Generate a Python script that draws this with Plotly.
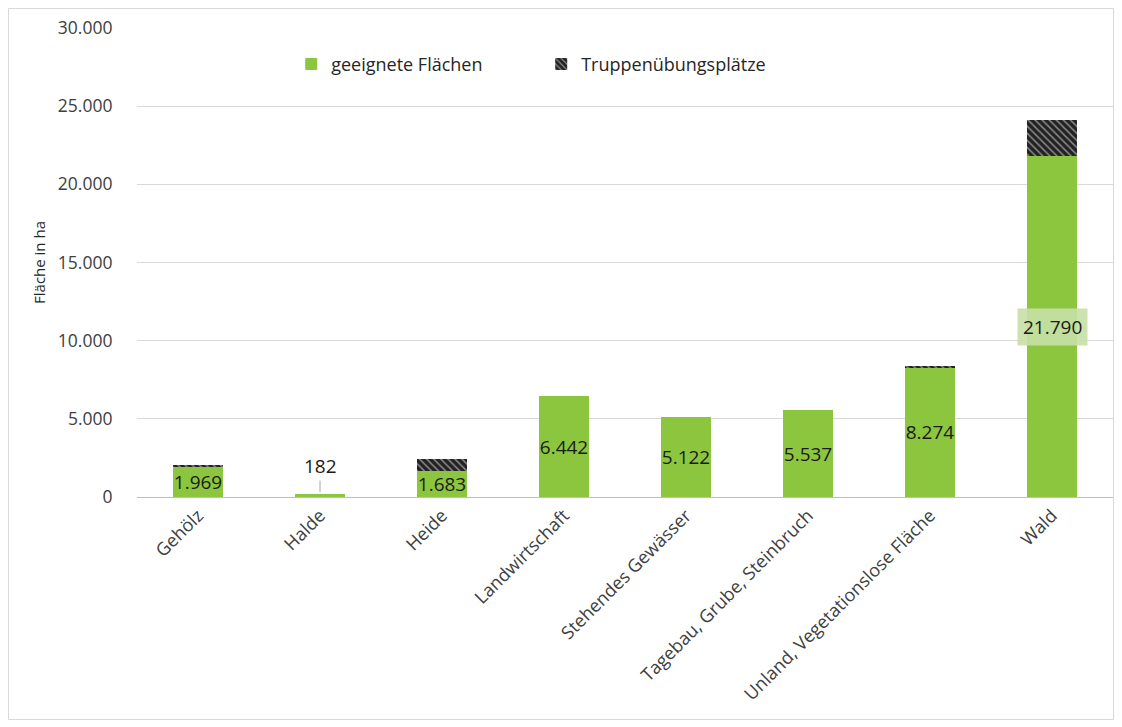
import plotly.graph_objects as go

categories = ['Gehölz', 'Halde', 'Heide', 'Landwirtschaft', 'Stehendes Gewässer',
              'Tagebau, Grube, Steinbruch', 'Unland, Vegetationslose Fläche', 'Wald']
geeignet = [1969, 182, 1683, 6442, 5122, 5537, 8274, 21790]
truppen = [80, 0, 720, 0, 0, 0, 110, 2320]
y_ticks = [0, 5000, 10000, 15000, 20000, 25000, 30000]
y_tick_labels = ['0', '5.000', '10.000', '15.000', '20.000', '25.000', '30.000']


def fmt(v):
    return f'{v:,}'.replace(',', '.')


# labels inside the bars; Halde and Wald get annotations instead
bar_text = [fmt(v) if c not in ('Halde', 'Wald') else '' for c, v in zip(categories, geeignet)]

green = '#8cc63f'
font_family = 'Open Sans, Noto Sans, sans-serif'

W, H = 1106, 712
ML, MR, MT, MB = 129, 1, 20, 223
plot_w = W - ML - MR
plot_h = H - MT - MB

fig = go.Figure()

fig.add_trace(go.Bar(
    x=categories, y=geeignet, name='geeignete Flächen',
    marker=dict(color=green, line=dict(width=0)),
    text=bar_text, textposition='inside', insidetextanchor='middle',
    textangle=0, constraintext='none',
    textfont=dict(size=19, color='#1a1a1a'),
    width=0.41,
))

fig.add_trace(go.Bar(
    x=categories, y=truppen, name='Truppenübungsplätze',
    marker=dict(color='#262626', line=dict(width=0),
                pattern=dict(shape='\\', bgcolor='#222222', fgcolor='#8a8a8a',
                             size=5, solidity=0.3, fillmode='replace')),
    width=0.41,
))

# Halde: label above with leader line
fig.add_annotation(x='Halde', y=geeignet[1], text=fmt(geeignet[1]),
                   showarrow=True, arrowhead=0, arrowwidth=1, arrowcolor='#a6a6a6',
                   ax=0, ay=-26, standoff=0,
                   font=dict(size=19, color='#1a1a1a'), yshift=2)

# Wald: label with highlighted background
fig.add_annotation(x='Wald', y=geeignet[7] / 2, text=fmt(geeignet[7]), showarrow=False,
                   bgcolor='rgba(198,224,166,0.9)', borderpad=5,
                   font=dict(size=19, color='#1a1a1a'))

# outer border around the whole figure
fig.add_shape(type='rect', xref='paper', yref='paper',
              x0=-(ML - 0.5) / plot_w, x1=1 + (MR - 0.5) / plot_w,
              y0=-(MB - 0.5) / plot_h, y1=1 + (MT - 0.5) / plot_h,
              line=dict(color='#d9d9d9', width=1))

# white legend box hides part of the top gridline
fig.add_shape(type='rect', xref='paper', yref='paper',
              x0=0.11, x1=0.69, y0=0.985, y1=1.015,
              fillcolor='white', line=dict(width=0), layer='above')

fig.update_layout(
    barmode='stack',
    width=W, height=H,
    margin=dict(l=ML, r=MR, t=MT, b=MB),
    paper_bgcolor='white', plot_bgcolor='white',
    font=dict(family=font_family, color='#404040'),
    showlegend=True,
    legend=dict(orientation='h', x=0.158, y=0.962, xanchor='left', yanchor='top',
                font=dict(size=18, color='#262626'), entrywidth=205,
                bgcolor='rgba(0,0,0,0)', traceorder='normal'),
    xaxis=dict(tickangle=-45, tickfont=dict(size=18, color='#404040'),
               showline=True, linecolor='#bfbfbf', linewidth=1, ticks='',
               automargin=False),
    yaxis=dict(range=[0, 30000], tickvals=y_ticks, ticktext=y_tick_labels,
               tickfont=dict(size=17.5, color='#404040'),
               showgrid=True, gridcolor='#d9d9d9', zeroline=False,
               ticks='outside', ticklen=20, tickcolor='white', automargin=False,
               title=dict(text='Fläche in ha', font=dict(size=15, color='#262626'), standoff=8)),
)

fig.write_html('out.html')
